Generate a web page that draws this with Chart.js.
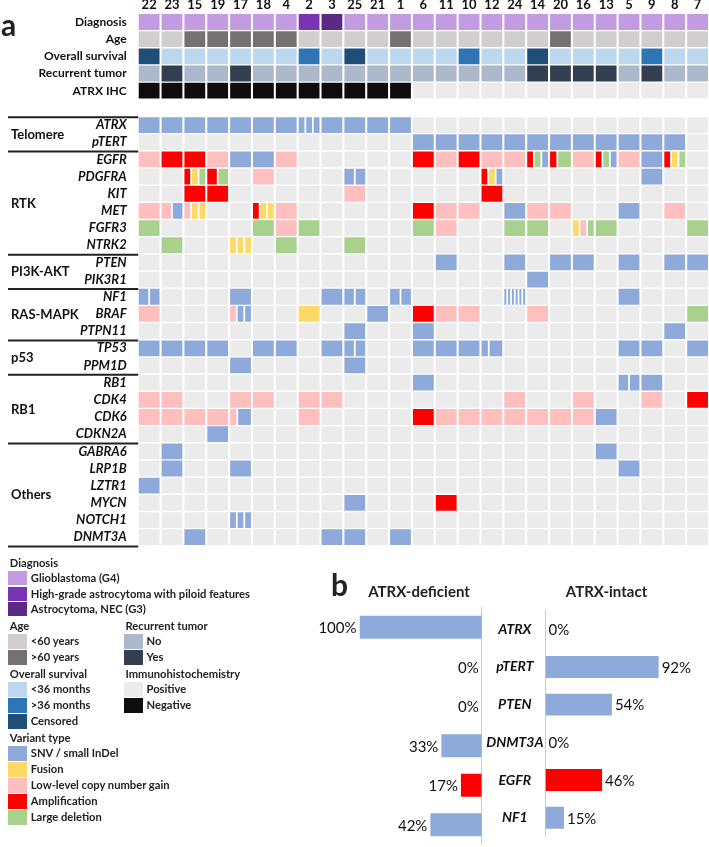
<!DOCTYPE html>
<html>
<head>
<meta charset="utf-8">
<script src="https://cdn.jsdelivr.net/npm/chart.js@4.4.0/dist/chart.umd.min.js"></script>
<style>
body { margin:0; background:#fff; font-family:Lato, sans-serif; }
#wrap { position:relative; width:709px; height:847px; overflow:hidden; }
#wrap canvas { position:absolute; }
.txt { position:absolute; white-space:nowrap; color:#222; }
.box { position:absolute; }
</style>
</head>
<body>
<div id="wrap">
  <canvas id="oncoprint" width="709" height="556" style="left:0;top:0"></canvas>
  <canvas id="barsLeft" width="190" height="247" style="left:300px;top:600px"></canvas>
  <canvas id="barsRight" width="239" height="247" style="left:470px;top:600px"></canvas>
</div>
<script>
// ---------- data : panel a ----------
var patients = ['22','23','15','19','17','18','4','2','3','25','21','1','6','11','10','12','24','14','20','16','13','5','9','8','7'];
var clinicalRows = ['Diagnosis','Age','Overall survival','Recurrent tumor','ATRX IHC'];

// one code per patient
var diagnosis = 'GGGGGGGHNGGGGGGGGGGGGGGGG'.split('');   // G glioblastoma, H HGAP, N astrocytoma NEC
var age       = 'yyoooooyyyyoyyyyyyoyyyyyy'.split('');   // y <60, o >60
var survival  = 'CSSSSSSLSCSSSSLSSCSSSSLSS'.split('');   // S <36m, L >36m, C censored
var recurrent = 'NYNNYNNNNNNNNNNNNYYYYNYNN'.split('');
var ihc       = 'NNNNNNNNNNNNPPPPPPPPPPPPP'.split('');   // N negative, P positive

// variant calls per patient: S snv, F fusion, G gain, A amplification, D large deletion, . none
// '|' splits a cell into sub-columns, repeated letters make a sub-column wider
var ATRX   = 'S S S S S S S S|S|S S S S S . . . . . . . . . . . . .'.split(' ');
var pTERT  = '. . . . . . . . . . . . S S S S S S S S S S S S .'.split(' ');
var EGFR   = 'G A A G S S G . . . . . A G A G G A|D|S A|DD G A|D|S G S A|F|D .'.split(' ');
var PDGFRA = '. . A|F|D A|D . G . . . S|S . . . . . A|F|S . . . . . . S . .'.split(' ');
var KIT    = '. . A A . . . . . G . . . . . A . . . . . . . . .'.split(' ');
var MET    = 'G G|S G|F|F . . A|F|F G . . . . . A G G . S G G . . S . G .'.split(' ');
var FGFR3  = 'D . . . . D G D . . . . D G . . D D . F|G|D D . . . D'.split(' ');
var NTRK2  = '. D . . F|F|F . D . . D . . . . . . . . . . . . . . .'.split(' ');
var PTEN   = '. . . . . . . . . . . . . S . . S . S S . S . S S'.split(' ');
var PIK3R1 = '. . . . . . . . . . . . . . . . . S . . . . . . .'.split(' ');
var NF1    = 'S|S . . . S . . . S S|S . S|S . . . . S|S|S|S|S|S . . . . S . . .'.split(' ');
var BRAF   = 'G . . . G|S|S . . F . . S . A G G . . G . . . . . . D'.split(' ');
var PTPN11 = '. . . . . . . . . S . . S . . . . . . . . . . S .'.split(' ');
var TP53   = 'S S S S . S S . S S|S . . S S S S|SS . . . . . S S . S'.split(' ');
var PPM1D  = '. . . . S . . . . S . . . . . . . . . . . . . . .'.split(' ');
var RB1    = '. . . . . . . . . . . . S . . . . . . . . S|S S . .'.split(' ');
var CDK4   = 'G G . . G G . G G . . . . . . . G . . G . . G . A'.split(' ');
var CDK6   = 'G G G G G|SS . . G . . . . A G G G G G G G S . . . .'.split(' ');
var CDKN2A = '. . . S . . . . . . . . . . . . . . . . . . . . .'.split(' ');
var GABRA6 = '. S . . . . . . . . . . . . . . . . . . S . . . .'.split(' ');
var LRP1B  = '. S . . S . . . . . . . . . . . . . . . . S . . .'.split(' ');
var LZTR1  = 'S . . . . . . . . . . . . . . . . . . . . . . . .'.split(' ');
var MYCN   = '. . . . . . . . . S . . . A . . . . . . . . . . .'.split(' ');
var NOTCH1 = '. . . . S|S|S . . . . . . . . . . . . . . . . . . . .'.split(' ');
var DNMT3A = '. . S . . . . . S S . S . . . . . . . . . . . . .'.split(' ');

var geneRows = [['ATRX',ATRX],['pTERT',pTERT],['EGFR',EGFR],['PDGFRA',PDGFRA],['KIT',KIT],['MET',MET],
  ['FGFR3',FGFR3],['NTRK2',NTRK2],['PTEN',PTEN],['PIK3R1',PIK3R1],['NF1',NF1],['BRAF',BRAF],['PTPN11',PTPN11],
  ['TP53',TP53],['PPM1D',PPM1D],['RB1',RB1],['CDK4',CDK4],['CDK6',CDK6],['CDKN2A',CDKN2A],['GABRA6',GABRA6],
  ['LRP1B',LRP1B],['LZTR1',LZTR1],['MYCN',MYCN],['NOTCH1',NOTCH1],['DNMT3A',DNMT3A]];
var groupNames = ['Telomere','RTK','PI3K-AKT','RAS-MAPK','p53','RB1','Others'];
var groupSizes = [2, 6, 2, 3, 2, 4, 6];

// ---------- data : panel b ----------
var bGenes = ['ATRX','pTERT','PTEN','DNMT3A','EGFR','NF1'];
var atrxDeficient = [100, 0, 0, 33, 17, 42];
var atrxIntact    = [0, 92, 54, 0, 46, 15];
var bTypes = ['S','S','S','S','A','S'];

// ---------- colours ----------
var EMPTY = '#ebebeb';
var diagColors = { G:'#c39be1', H:'#7a33b5', N:'#5b2a85' };
var ageColors  = { y:'#d0cece', o:'#767171' };
var survColors = { S:'#bdd7ee', L:'#2e75b6', C:'#1f4e79' };
var recColors  = { N:'#adb9ca', Y:'#333f50' };
var ihcColors  = { P:EMPTY, N:'#0d0d0d' };
var variantColors = { S:'#8eaadb', F:'#ffd966', G:'#ffbfbf', A:'#ff0000', D:'#a9d18e' };

Chart.defaults.font.family = 'Lato';

// ---------- panel a ----------
var rows = clinicalRows.concat(['']).concat(geneRows.map(function(g){ return g[0]; }));
var PAD = 0.045, GAP = 0.075;
var cells = [], cellColors = [];

function addCell(row, col, code, palette) {
  var parts = code.split('|');
  var units = parts.reduce(function(n, p){ return n + p.length; }, 0);
  var avail = 1 - 2 * PAD - GAP * (parts.length - 1);
  var x = col + PAD;
  parts.forEach(function(p) {
    var w = avail * p.length / units;
    cells.push({ x:[x, x + w], y:row });
    cellColors.push(palette[p[0]]);
    x += w + GAP;
  });
}

var clinical = [[diagnosis, diagColors],[age, ageColors],[survival, survColors],[recurrent, recColors],[ihc, ihcColors]];
clinical.forEach(function(c, i) {
  c[0].forEach(function(v, col){ addCell(clinicalRows[i], col, v, c[1]); });
});
geneRows.forEach(function(g) {
  g[1].forEach(function(v, col) {
    if (v === '.') { cells.push({ x:[col + PAD, col + 1 - PAD], y:g[0] }); cellColors.push(EMPTY); }
    else addCell(g[0], col, v, variantColors);
  });
});

var groupPlugin = {
  id: 'groups',
  afterDraw: function(chart) {
    var ctx = chart.ctx, y = chart.scales.y;
    var half = (y.getPixelForValue(1) - y.getPixelForValue(0)) / 2;
    var r = clinicalRows.length + 1;
    ctx.save();
    ctx.strokeStyle = '#222';
    ctx.lineWidth = 2;
    ctx.fillStyle = '#111';
    ctx.font = 'bold 13px Lato';
    ctx.textBaseline = 'middle';
    function hline(py) {
      ctx.beginPath(); ctx.moveTo(8, py + 0.8); ctx.lineTo(chart.chartArea.left + 0.5, py + 0.8); ctx.stroke();
    }
    hline(y.getPixelForValue(r) - half);
    groupNames.forEach(function(name, i) {
      var top = y.getPixelForValue(r) - half;
      var bot = y.getPixelForValue(r + groupSizes[i] - 1) + half;
      ctx.fillText(name, 11, (top + bot) / 2 + 1);
      hline(bot);
      r += groupSizes[i];
    });
    ctx.restore();
  }
};

new Chart(document.getElementById('oncoprint'), {
  type: 'bar',
  data: {
    labels: rows,
    datasets: [{ data: cells, backgroundColor: cellColors, borderWidth: 0, borderSkipped: false,
                 barPercentage: 0.92, categoryPercentage: 1 }]
  },
  options: {
    indexAxis: 'y', responsive: false, animation: false, events: [],
    layout: { padding: { left: 0, right: 0, top: 0, bottom: 8.4 } },
    plugins: { legend: { display: false }, tooltip: { enabled: false } },
    scales: {
      x: { type: 'linear', min: 0, max: 25, display: false },
      xTop: {
        type: 'category', labels: patients, position: 'top', offset: true,
        grid: { display: false, drawTicks: false }, border: { display: false },
        ticks: { autoSkip: false, maxRotation: 0, padding: 1, color: '#111',
                 font: { family: 'Lato', weight: 'bold', size: 13 } },
        afterFit: function(s) { s.height = 13.4; }
      },
      y: {
        grid: { display: false }, border: { display: false },
        ticks: { autoSkip: false, padding: 3, color: '#111',
                 font: function(c) {
                   var clin = c.index < clinicalRows.length;
                   return { family: 'Lato', size: clin ? 12 : 13, weight: 'bold', style: clin ? 'normal' : 'italic' };
                 } },
        afterFit: function(s) { s.width = 137.7; }
      }
    }
  },
  plugins: [groupPlugin]
});

// ---------- panel b ----------
function valueLabels(side) {
  return {
    id: 'values' + side,
    afterDatasetsDraw: function(chart) {
      var ctx = chart.ctx, meta = chart.getDatasetMeta(0), vals = chart.data.datasets[0].data;
      ctx.save();
      ctx.font = '15px Lato';
      ctx.fillStyle = '#111';
      ctx.textBaseline = 'middle';
      ctx.textAlign = side === 'left' ? 'right' : 'left';
      meta.data.forEach(function(bar, i) {
        ctx.fillText(vals[i] + '%', side === 'left' ? bar.x - 3 : bar.x + 3, bar.y + 1);
      });
      ctx.restore();
    }
  };
}
var bColors = bTypes.map(function(t){ return variantColors[t]; });

new Chart(document.getElementById('barsLeft'), {
  type: 'bar',
  data: { labels: bGenes, datasets: [{ data: atrxDeficient, backgroundColor: bColors, borderWidth: 0, barPercentage: 0.58, categoryPercentage: 1 }] },
  options: {
    indexAxis: 'y', responsive: false, animation: false, events: [],
    layout: { padding: { left: 59.5, right: 8.3, top: 7.5, bottom: 2.5 } },
    plugins: { legend: { display: false }, tooltip: { enabled: false } },
    scales: {
      x: { min: 0, max: 100, reverse: true, display: false },
      y: { position: 'right', grid: { display: false }, border: { display: true, color: '#c8c8c8', width: 1 },
           ticks: { display: false }, afterFit: function(s) { s.width = 0; } }
    }
  },
  plugins: [valueLabels('left')]
});

new Chart(document.getElementById('barsRight'), {
  type: 'bar',
  data: { labels: bGenes, datasets: [{ data: atrxIntact, backgroundColor: bColors, borderWidth: 0, barPercentage: 0.58, categoryPercentage: 1 }] },
  options: {
    indexAxis: 'y', responsive: false, animation: false, events: [],
    layout: { padding: { left: 12, right: 40.5, top: 7.5, bottom: 2.5 } },
    plugins: { legend: { display: false }, tooltip: { enabled: false } },
    scales: {
      x: { min: 0, max: 100, display: false },
      y: { position: 'left', grid: { display: false, drawTicks: false }, border: { display: true, color: '#c8c8c8', width: 1 },
           ticks: { crossAlign: 'center', padding: 2, color: '#111', font: { family: 'Lato', size: 14, weight: 'bold', style: 'italic' } },
           afterFit: function(s) { s.width = 63.5; } }
    }
  },
  plugins: [valueLabels('right')]
});

// ---------- html text: panel letters, titles, legend ----------
var wrap = document.getElementById('wrap');
function addText(str, x, cy, font, align) {
  var d = document.createElement('div');
  d.className = 'txt';
  d.textContent = str;
  d.style.font = font;
  d.style.lineHeight = '20px';
  d.style.top = (cy - 10) + 'px';
  if (align === 'center') { d.style.left = (x - 100) + 'px'; d.style.width = '200px'; d.style.textAlign = 'center'; }
  else d.style.left = x + 'px';
  wrap.appendChild(d);
}
function addBox(x, y, w, h, color) {
  var d = document.createElement('div');
  d.className = 'box';
  d.style.cssText = 'left:' + x + 'px;top:' + y + 'px;width:' + w + 'px;height:' + h + 'px;background:' + color;
  wrap.appendChild(d);
}

addText('a', 1, 24, 'bold 30px Lato');
addText('b', 331, 584, 'bold 30px Lato');
addText('ATRX-deficient', 419, 591, 'bold 15px Lato', 'center');
addText('ATRX-intact', 606.5, 591, 'bold 15px Lato', 'center');

var legendBlocks = [
  { title:'Diagnosis', x:8.3, top:571, pitch:15.6, items:[['Glioblastoma (G4)', diagColors.G], ['High-grade astrocytoma with piloid features', diagColors.H], ['Astrocytoma, NEC (G3)', diagColors.N]] },
  { title:'Age', x:8.3, top:634, pitch:16, items:[['<60 years', ageColors.y], ['>60 years', ageColors.o]] },
  { title:'Overall survival', x:8.3, top:682, pitch:16, items:[['<36 months', survColors.S], ['>36 months', survColors.L], ['Censored', survColors.C]] },
  { title:'Variant type', x:8.3, top:746, pitch:16, items:[['SNV / small InDel', variantColors.S], ['Fusion', variantColors.F], ['Low-level copy number gain', variantColors.G], ['Amplification', variantColors.A], ['Large deletion', variantColors.D]] },
  { title:'Recurrent tumor', x:124, top:634, pitch:16, items:[['No', recColors.N], ['Yes', recColors.Y]] },
  { title:'Immunohistochemistry', x:124, top:682, pitch:16, items:[['Positive', ihcColors.P], ['Negative', ihcColors.N]] }
];
legendBlocks.forEach(function(b) {
  addText(b.title, b.x + 1.5, b.top - 8, 'bold 11.2px Lato');
  b.items.forEach(function(it, i) {
    var y = b.top + i * b.pitch, h = b.pitch - 1.5;
    addBox(b.x, y, 19, h, it[1]);
    addText(it[0], b.x + 22.5, y + h / 2, 'bold 11.2px Lato');
  });
});
</script>
</body>
</html>
